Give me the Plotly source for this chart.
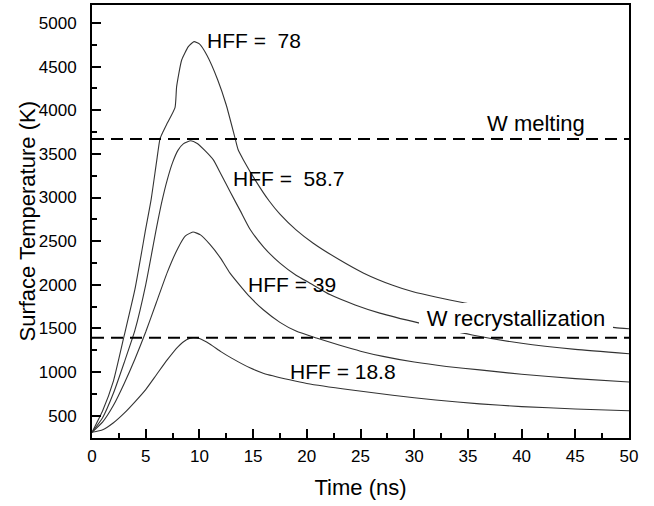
import plotly.graph_objects as go

# HFF = 78
t_78 = [0, 1, 2, 3, 4, 5, 5.5, 6.0, 6.33, 6.6, 7.0, 7.73, 7.88, 8.35, 8.97, 9.5, 10.0, 10.7, 11.7, 12.5, 13.3, 13.6, 14.1, 15.2, 16.5, 17.5, 19, 20.6, 23, 25.3, 28, 29.9, 32, 34.6, 38, 42, 46, 48.7, 50]
T_78 = [310, 560, 900, 1420, 1950, 2640, 2973, 3400, 3672, 3750, 3850, 4030, 4271, 4576, 4729, 4786, 4760, 4630, 4350, 4060, 3690, 3550, 3431, 3200, 2960, 2810, 2630, 2477, 2290, 2134, 1995, 1920, 1860, 1795, 1710, 1630, 1555, 1510, 1496]

# HFF = 58.7
t_587 = [0, 1, 2, 3, 4, 5, 6, 6.5, 7, 7.5, 8, 8.5, 9.2, 9.8, 10.5, 11.3, 12, 12.85, 13.8, 14.7, 16, 17.5, 19, 20.3, 22.2, 24.5, 26.8, 30.5, 35.4, 40, 45, 50]
T_587 = [310, 480, 760, 1110, 1480, 2000, 2650, 2950, 3200, 3400, 3540, 3615, 3650, 3620, 3540, 3431, 3270, 3068, 2850, 2640, 2430, 2248, 2110, 2019, 1885, 1770, 1676, 1561, 1426, 1330, 1260, 1210]

# HFF = 39
t_39 = [0, 1, 2, 3, 4, 5, 6, 7, 8, 8.7, 9.4, 10.1, 11, 12, 12.85, 14, 14.7, 15.95, 17.5, 19, 20.9, 23, 25, 27.1, 30, 33, 36.1, 40, 45, 50]
T_39 = [310, 430, 620, 870, 1150, 1460, 1800, 2140, 2420, 2560, 2605, 2572, 2460, 2300, 2134, 1960, 1861, 1714, 1570, 1470, 1390, 1310, 1240, 1180, 1115, 1065, 1025, 975, 925, 887]

# HFF = 18.8
t_188 = [0, 1, 2, 3, 4, 5, 6, 7, 8, 8.8, 9.4, 10, 11, 12, 13, 14.7, 16, 18.4, 20, 24, 28, 32, 36.1, 40, 45, 50]
T_188 = [310, 340, 420, 530, 660, 800, 970, 1140, 1290, 1370, 1396, 1385, 1320, 1235, 1160, 1049, 985, 912, 870, 797, 735, 680, 636, 605, 578, 557]

T_melt = 3672
T_recryst = 1395

x_ticks = [0, 5, 10, 15, 20, 25, 30, 35, 40, 45, 50]
y_ticks = [500, 1000, 1500, 2000, 2500, 3000, 3500, 4000, 4500, 5000]

FONT = "Liberation Sans, Arial, sans-serif"
curve_color = "#333333"

fig = go.Figure()
for tt, TT in [(t_78, T_78), (t_587, T_587), (t_39, T_39), (t_188, T_188)]:
    fig.add_trace(go.Scatter(x=tt, y=TT, mode="lines",
                             line=dict(color=curve_color, width=1.1, shape="spline", smoothing=0.5),
                             showlegend=False, hoverinfo="skip"))

for yv in [T_melt, T_recryst]:
    fig.add_trace(go.Scatter(x=[0, 50], y=[yv, yv], mode="lines",
                             line=dict(color="black", width=2, dash="12px,7px"),
                             showlegend=False, hoverinfo="skip"))

labels = [
    ("HFF =  78", 10.68, 4805, 21),
    ("HFF =  58.7", 13.16, 3222, 21),
    ("HFF = 39", 14.55, 2000, 21),
    ("HFF = 18.8", 18.44, 1007, 21),
    ("W melting", 36.75, 3843, 22),
]
for txt, xv, yv, fs in labels:
    fig.add_annotation(x=xv, y=yv, text=txt, showarrow=False, xanchor="left",
                       yanchor="middle", font=dict(family=FONT, size=fs, color="black"),
                       borderpad=0, borderwidth=0)

fig.add_annotation(x=39.47, y=1618, text="W recrystallization", showarrow=False,
                   xanchor="center", yanchor="middle",
                   font=dict(family=FONT, size=22, color="black"),
                   bgcolor="white", width=194, height=30, borderpad=0, borderwidth=0)

# y-axis title
fig.add_annotation(xref="paper", yref="paper", x=-0.121, y=0.5, text="Surface Temperature (K)",
                   textangle=-90, showarrow=False, xanchor="center", yanchor="middle",
                   font=dict(family=FONT, size=22, color="black"))

axis_common = dict(
    showline=True, linecolor="black", linewidth=2, mirror=True,
    ticks="inside", ticklen=9, tickwidth=1.5, tickcolor="black",
    showgrid=False, zeroline=False,
    tickfont=dict(family=FONT, size=17, color="black"),
)

fig.update_xaxes(range=[0, 50], tickvals=x_ticks, ticktext=[str(v) for v in x_ticks],
                 minor=dict(ticks="inside", ticklen=5, dtick=2.5, tick0=0, tickcolor="black", tickwidth=1.5),
                 title=dict(text="Time (ns)", font=dict(family=FONT, size=22, color="black"), standoff=14),
                 ticklabelstandoff=2,
                 **axis_common)
fig.update_yaxes(range=[245, 5206], tickvals=y_ticks, ticktext=[str(v) for v in y_ticks],
                 minor=dict(ticks="inside", ticklen=5, dtick=250, tick0=0, tickcolor="black", tickwidth=1.5),
                 ticklabelstandoff=10,
                 **axis_common)

fig.update_layout(width=654, height=506, margin=dict(l=92, r=25, t=5, b=68, autoexpand=False),
                  plot_bgcolor="white", paper_bgcolor="white")

fig.write_html("out.html", config={"displayModeBar": False},
               post_script="document.body.style.margin='0';document.body.style.overflow='hidden';")
